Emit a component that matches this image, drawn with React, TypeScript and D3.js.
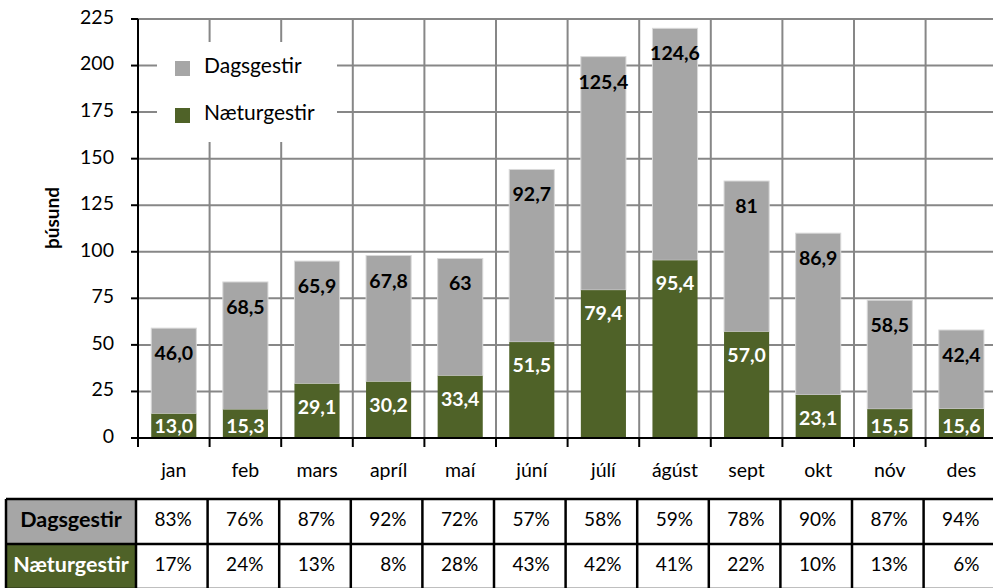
import React from "react";
import * as d3 from "d3";

const months = ["jan", "feb", "mars", "apríl", "maí", "júní", "júlí", "ágúst", "sept", "okt", "nóv", "des"];
const naetur = [13.0, 15.3, 29.1, 30.2, 33.4, 51.5, 79.4, 95.4, 57.0, 23.1, 15.5, 15.6];
const dags = [46.0, 68.5, 65.9, 67.8, 63, 92.7, 125.4, 124.6, 81, 86.9, 58.5, 42.4];
const naeturLabels = ["13,0", "15,3", "29,1", "30,2", "33,4", "51,5", "79,4", "95,4", "57,0", "23,1", "15,5", "15,6"];
const dagsLabels = ["46,0", "68,5", "65,9", "67,8", "63", "92,7", "125,4", "124,6", "81", "86,9", "58,5", "42,4"];
const dagsPct = ["83%", "76%", "87%", "92%", "72%", "57%", "58%", "59%", "78%", "90%", "87%", "94%"];
const naeturPct = ["17%", "24%", "13%", "8%", "28%", "43%", "42%", "41%", "22%", "10%", "13%", "6%"];
const yTicks = [0, 25, 50, 75, 100, 125, 150, 175, 200, 225];

const GRAY = "#a6a6a6";
const GREEN = "#4f6228";
const GRID = "#878787";
const FONT = "Lato, 'DejaVu Sans', sans-serif";

const App = () => {
  const W = 993;
  const H = 588;
  const left = 138;
  const step = 71.6;

  const x = d3.scaleBand<string>().domain(months).range([left, left + step * months.length]).padding(0);
  const y = d3.scaleLinear().domain([0, 225]).range([438, 19]);
  const bw = x.bandwidth() * 0.63;
  const bx = (m: string) => (x(m) as number) + (x.bandwidth() - bw) / 2;
  const cx = (m: string) => (x(m) as number) + x.bandwidth() / 2;
  const bounds = months.map((m) => x(m) as number).concat([left + step * months.length]);

  const tableTop = 499;
  const rowH = 45;

  return (
    <svg width={W} height={H} style={{ position: "absolute", left: 0, top: 0, fontFamily: FONT }}>
      <rect width={W} height={H} fill="#fff" />

      {/* gridlines */}
      {yTicks.filter((t) => t > 0).map((t) => (
        <line key={"h" + t} x1={left} x2={W} y1={y(t)} y2={y(t)} stroke={GRID} strokeWidth={2} />
      ))}
      {bounds.slice(1).map((b, i) => (
        <line key={"v" + i} x1={b} x2={b} y1={y(225)} y2={y(0)} stroke={GRID} strokeWidth={2} />
      ))}

      {/* legend */}
      <rect x={157} y={42} width={180} height={100} fill="#fff" />
      <rect x={175} y={61} width={15} height={15} fill={GRAY} />
      <text x={204} y={68} dominantBaseline="middle" fontSize={21} fill="#000">Dagsgestir</text>
      <rect x={175} y={108} width={15} height={15} fill={GREEN} />
      <text x={204} y={115} dominantBaseline="middle" fontSize={21} fill="#000">Næturgestir</text>

      {/* bars */}
      {months.map((m, i) => {
        const top = y(naetur[i] + dags[i]);
        const mid = y(naetur[i]);
        return (
          <g key={m}>
            <rect x={bx(m)} y={top} width={bw} height={mid - top} fill={GRAY} stroke="#d9d9d9" strokeWidth={1} />
            <rect x={bx(m)} y={mid} width={bw} height={y(0) - mid} fill={GREEN} />
            <text x={cx(m)} y={top + 27} textAnchor="middle" dominantBaseline="middle" fontSize={19.5} fontWeight="bold" fill="#000">
              {dagsLabels[i]}
            </text>
            <text x={cx(m)} y={Math.min(mid + 25, 428)} textAnchor="middle" dominantBaseline="middle" fontSize={19.5} fontWeight="bold" fill="#fff">
              {naeturLabels[i]}
            </text>
          </g>
        );
      })}

      {/* axes */}
      <line x1={left} x2={left} y1={y(225)} y2={y(0)} stroke="#000" strokeWidth={2} />
      <line x1={left} x2={W} y1={y(0)} y2={y(0)} stroke="#000" strokeWidth={2} />
      {yTicks.map((t) => (
        <g key={"yt" + t}>
          <line x1={131} x2={left} y1={y(t)} y2={y(t)} stroke="#000" strokeWidth={2} />
          <text x={114} y={y(t)} textAnchor="end" dominantBaseline="middle" fontSize={19.5} fill="#000">{t}</text>
        </g>
      ))}
      {bounds.map((b, i) => (
        <line key={"xt" + i} x1={b} x2={b} y1={y(0)} y2={447} stroke="#000" strokeWidth={2} />
      ))}
      {months.map((m) => (
        <text key={"xl" + m} x={cx(m)} y={472} textAnchor="middle" dominantBaseline="middle" fontSize={19.5} fill="#000">{m}</text>
      ))}
      <text transform="translate(54,218) rotate(-90)" textAnchor="middle" dominantBaseline="middle" fontSize={19} fontWeight="bold" fill="#000">
        þúsund
      </text>

      {/* table */}
      <rect x={6} y={tableTop} width={130} height={rowH} fill={GRAY} />
      <rect x={6} y={tableTop + rowH} width={130} height={rowH} fill={GREEN} />
      <text x={71} y={tableTop + rowH / 2} textAnchor="middle" dominantBaseline="middle" fontSize={21.5} fontWeight="bold" fill="#000">Dagsgestir</text>
      <text x={71} y={tableTop + rowH * 1.5} textAnchor="middle" dominantBaseline="middle" fontSize={21.5} fontWeight="bold" fill="#fff">Næturgestir</text>
      {[0, 1, 2].map((r) => (
        <line key={"tr" + r} x1={6} x2={W} y1={tableTop + r * rowH} y2={tableTop + r * rowH} stroke="#000" strokeWidth={2.5} />
      ))}
      {[6].concat(bounds.map((b) => b - 2)).map((b, i) => (
        <line key={"tc" + i} x1={b} x2={b} y1={tableTop} y2={tableTop + 2 * rowH} stroke="#000" strokeWidth={2.5} />
      ))}
      {months.map((m, i) => (
        <g key={"tp" + m}>
          <text x={cx(m) + 18} y={tableTop + rowH / 2} textAnchor="end" dominantBaseline="middle" fontSize={19} fill="#000">{dagsPct[i]}</text>
          <text x={cx(m) + 18} y={tableTop + rowH * 1.5} textAnchor="end" dominantBaseline="middle" fontSize={19} fill="#000">{naeturPct[i]}</text>
        </g>
      ))}
    </svg>
  );
};

export default App;
